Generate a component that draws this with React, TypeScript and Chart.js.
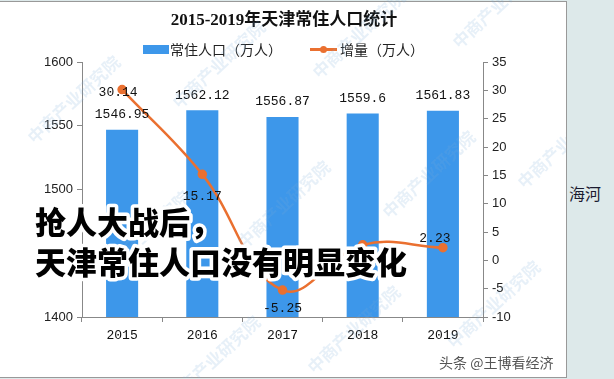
import { useEffect, useRef } from 'react';
import { Chart, registerables } from 'chart.js';

Chart.register(...registerables);

const titleText = '2015-2019年天津常住人口统计';
const years = ['2015', '2016', '2017', '2018', '2019'];
const population = [1546.95, 1562.12, 1556.87, 1559.6, 1561.83];
const increment = [30.14, 15.17, -5.25, 2.73, 2.23];
const popLabel = '常住人口（万人）';
const incLabel = '增量（万人）';
const leftTicks = { min: 1400, max: 1600, step: 50 };
const rightTicks = { min: -10, max: 35, step: 5 };
const overlayLines = ['抢人大战后，', '天津常住人口没有明显变化'];
const watermark = '中商产业研究院';

// label placement (style only)
const incLabelDy = [3, 22, 18, 10, -9];
const incLabelDx = [-4, 0, 0, 0, -8];

const W = 566;
const H = 378;
const BAR = '#3d97ea';
const LINE = '#ea7030';

const MONO = '"Liberation Mono", "DejaVu Sans Mono", monospace';
const SANS = '"Liberation Sans", Arial, sans-serif';

const decor = {
  id: 'decor',
  beforeDraw(chart: any) {
    const ctx = chart.ctx;
    ctx.save();
    ctx.fillStyle = '#111';
    ctx.font = 'bold 17px "Liberation Serif", "Noto Sans CJK SC", serif';
    ctx.textAlign = 'center';
    ctx.textBaseline = 'middle';
    ctx.fillText(titleText, 284, 21);
    ctx.font = '14px "Noto Sans CJK SC", sans-serif';
    ctx.textAlign = 'left';
    ctx.fillStyle = BAR;
    ctx.fillRect(143, 45, 26, 9);
    ctx.fillStyle = '#222';
    ctx.fillText(chart.data.datasets[0].label, 170, 50);
    ctx.strokeStyle = LINE;
    ctx.lineWidth = 3;
    ctx.beginPath();
    ctx.moveTo(310, 49.5);
    ctx.lineTo(337, 49.5);
    ctx.stroke();
    ctx.fillStyle = LINE;
    ctx.beginPath();
    ctx.arc(323.5, 49.5, 3.5, 0, Math.PI * 2);
    ctx.fill();
    ctx.fillStyle = '#222';
    ctx.fillText(chart.data.datasets[1].label, 340, 50);
    ctx.restore();
  },
  afterDatasetsDraw(chart: any) {
    const ctx = chart.ctx;
    ctx.save();
    ctx.font = '13px ' + MONO;
    ctx.textAlign = 'center';
    ctx.textBaseline = 'middle';
    ctx.fillStyle = '#111';
    const barMeta = chart.getDatasetMeta(0);
    barMeta.data.forEach((el: any, i: number) => {
      ctx.fillText(String(population[i]), el.x, el.y - 15);
    });
    const lineMeta = chart.getDatasetMeta(1);
    lineMeta.data.forEach((el: any, i: number) => {
      ctx.fillText(increment[i].toFixed(2), el.x + incLabelDx[i], el.y + incLabelDy[i]);
    });
    ctx.fillStyle = 'rgba(120,170,215,0.18)';
    ctx.font = 'bold 17px "Noto Sans CJK SC", sans-serif';
    const spots = [
      [30, 140], [175, 105], [315, 75], [455, 45],
      [100, 275], [240, 245], [385, 215], [520, 185],
      [170, 400], [310, 370], [450, 345],
    ];
    spots.forEach(([x, y]) => {
      ctx.save();
      ctx.translate(x, y);
      ctx.rotate(-Math.PI / 4.2);
      ctx.textAlign = 'left';
      ctx.fillText(watermark, 0, 0);
      ctx.restore();
    });
    ctx.restore();
  },
  afterDraw(chart: any) {
    const ctx = chart.ctx;
    ctx.save();
    ctx.font = '900 31px "Noto Sans CJK SC", sans-serif';
    ctx.textAlign = 'left';
    ctx.textBaseline = 'middle';
    ctx.lineJoin = 'round';
    overlayLines.forEach((t, i) => {
      const y = 222 + i * 40;
      ctx.strokeStyle = '#fff';
      ctx.lineWidth = 7;
      ctx.strokeText(t, 35, y);
      ctx.fillStyle = '#000';
      ctx.fillText(t, 35, y);
    });
    ctx.restore();
  },
};

export default function App() {
  const ref = useRef<HTMLCanvasElement>(null);
  useEffect(() => {
    const chart = new Chart(ref.current as HTMLCanvasElement, {
      type: 'bar',
      data: {
        labels: years,
        datasets: [
          {
            type: 'bar',
            label: popLabel,
            data: population,
            backgroundColor: BAR,
            yAxisID: 'y',
            barPercentage: 0.4,
            categoryPercentage: 1,
            order: 1,
          },
          {
            type: 'line',
            label: incLabel,
            data: increment,
            borderColor: LINE,
            backgroundColor: LINE,
            borderWidth: 2.5,
            pointRadius: 3.5,
            pointBackgroundColor: LINE,
            pointBorderColor: LINE,
            tension: 0.4,
            yAxisID: 'y1',
            order: 0,
          } as any,
        ],
      },
      options: {
        responsive: false,
        animation: false,
        devicePixelRatio: 1,
        layout: { padding: { top: 62, left: 0, right: 0, bottom: 0 } },
        plugins: { legend: { display: false }, title: { display: false }, tooltip: { enabled: false } },
        scales: {
          x: {
            offset: true,
            grid: { offset: true, drawOnChartArea: false, drawTicks: true, tickLength: 5, color: '#888' },
            border: { color: '#888', width: 1 },
            ticks: { color: '#111', font: { family: MONO, size: 13 }, padding: 6 },
            afterFit: (s: any) => { s.height = H - 317; },
          },
          y: {
            position: 'left',
            min: leftTicks.min,
            max: leftTicks.max,
            grid: { drawOnChartArea: false, drawTicks: true, tickLength: 5, color: '#888' },
            border: { color: '#888', width: 1 },
            ticks: { stepSize: leftTicks.step, color: '#222', font: { family: SANS, size: 13 }, padding: 4, callback: (v: any) => String(v) },
            afterFit: (s: any) => { s.width = 82; },
          },
          y1: {
            position: 'right',
            min: rightTicks.min,
            max: rightTicks.max,
            grid: { drawOnChartArea: false, drawTicks: true, tickLength: 5, color: '#888' },
            border: { color: '#888', width: 1 },
            ticks: { stepSize: rightTicks.step, color: '#222', font: { family: SANS, size: 13 }, padding: 4, callback: (v: any) => String(v) },
            afterFit: (s: any) => { s.width = W - 483; },
          },
        },
      },
      plugins: [decor],
    });
    return () => chart.destroy();
  }, []);
  return (
    <div style={{ position: 'fixed', left: 0, top: 0, width: 614, height: 379, background: '#dde9ea', overflow: 'hidden' }}>
      <div style={{ position: 'absolute', left: 0, top: 1, width: W, height: 375, background: '#fff', borderTop: '1px solid #999', borderRight: '1px solid #999', borderBottom: '1px solid #999' }} />
      <canvas ref={ref} width={W} height={H} style={{ position: 'absolute', left: 0, top: 0, width: W, height: H }} />
      <div style={{ position: 'absolute', left: 569, top: 183, font: '16px "Noto Sans CJK SC", sans-serif', color: '#1b1b30', lineHeight: '20px' }}>海河</div>
      <div style={{ position: 'absolute', left: 439, top: 353, font: '14px "Noto Sans CJK SC", sans-serif', color: '#555', lineHeight: '18px', textShadow: '0 0 2px #fff' }}>头条 @王博看经济</div>
    </div>
  );
}
